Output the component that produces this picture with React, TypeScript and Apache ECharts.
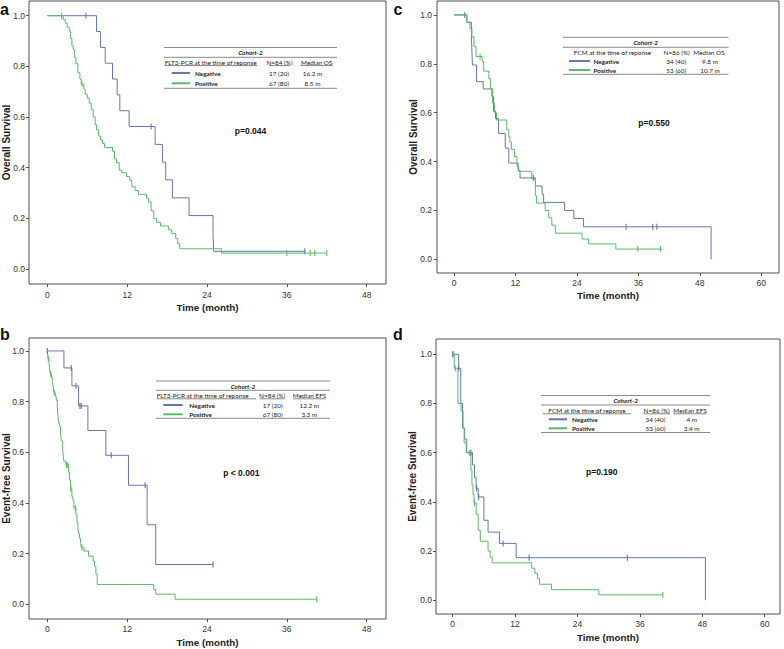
import React, { useEffect, useRef } from 'react';
import * as echarts from 'echarts';

// ---------- DATA (Kaplan–Meier steps: time in months, survival proportion) ----------
// Panel a: FLT3-PCR, Overall Survival
const aNegT = [0, 7.4, 8.0, 8.7, 9.8, 10.5, 10.9, 12.3, 16.2, 17.3, 17.8, 18.8, 21.3, 24.9, 25.0, 38.8];
const aNegS = [1, 0.9375, 0.875, 0.8125, 0.75, 0.6875, 0.625, 0.5625, 0.492, 0.422, 0.352, 0.281, 0.211, 0.141, 0.07, 0.07];
const aNegCens = [5.8, 15.6, 38.7];
const aPosT = [0, 2.4, 2.7, 3.0, 3.3, 3.5, 3.7, 3.9, 4.1, 4.3, 4.6, 4.9, 5.1, 5.5, 5.7, 6.0, 6.3, 6.6, 6.9, 7.2, 7.4, 7.7, 8.0, 8.3, 8.6, 9.8, 10.1, 10.4, 10.8, 11.2, 11.9, 12.4, 12.7, 13.2, 13.7, 14.9, 15.2, 15.6, 16.0, 16.4, 17.0, 18.2, 18.7, 19.3, 19.6, 19.9, 26.2, 42.0];
const aPosS = [1, 0.985, 0.97, 0.955, 0.94, 0.91, 0.88, 0.865, 0.835, 0.81, 0.775, 0.75, 0.73, 0.71, 0.69, 0.675, 0.655, 0.63, 0.6, 0.57, 0.55, 0.525, 0.51, 0.495, 0.48, 0.465, 0.435, 0.42, 0.39, 0.38, 0.365, 0.35, 0.325, 0.31, 0.295, 0.28, 0.265, 0.23, 0.2, 0.185, 0.17, 0.155, 0.14, 0.12, 0.1, 0.08, 0.063, 0.063];
const aPosCens = [2.15, 5.2, 36.0, 39.5, 40.2, 42.0];

// Panel b: FLT3-PCR, Event-free Survival
const bNegT = [0, 2.5, 3.7, 4.7, 6.1, 8.8, 12.2, 15.0, 16.3, 24.9];
const bNegS = [1, 0.933, 0.862, 0.783, 0.686, 0.588, 0.47, 0.314, 0.157, 0.157];
const bNegCens = [0, 3.6, 4.3, 4.9, 5.1, 9.6, 14.7, 24.9];
const bPosT = [0, 0.05, 0.1, 0.25, 0.35, 0.45, 0.6, 0.75, 0.9, 1.0, 1.2, 1.35, 1.5, 1.6, 1.7, 1.85, 2.0, 2.1, 2.3, 2.4, 2.5, 2.8, 3.2, 3.35, 3.5, 3.7, 3.85, 4.0, 4.3, 4.45, 4.6, 4.7, 4.85, 5.0, 5.1, 5.5, 6.2, 6.9, 7.1, 7.3, 7.5, 16.0, 16.3, 19.2, 40.5];
const bPosS = [1, 0.985, 0.97, 0.955, 0.925, 0.91, 0.895, 0.865, 0.85, 0.835, 0.82, 0.805, 0.775, 0.745, 0.715, 0.7, 0.67, 0.645, 0.615, 0.585, 0.565, 0.55, 0.52, 0.49, 0.455, 0.425, 0.41, 0.38, 0.355, 0.325, 0.3, 0.28, 0.26, 0.24, 0.225, 0.21, 0.19, 0.17, 0.15, 0.12, 0.078, 0.058, 0.04, 0.02, 0.02];
const bPosCens = [0.15, 0.5, 1.05, 2.9, 3.1, 3.55, 4.2, 5.2, 40.5];

// Panel c: FCM, Overall Survival
const cNegT = [0, 2.5, 3.4, 3.5, 3.6, 4.4, 5.7, 7.4, 7.7, 8.1, 8.7, 10.0, 10.7, 12.5, 12.9, 15.9, 17.2, 17.5, 21.6, 23.4, 25.3, 50.2];
const cNegS = [1, 0.97, 0.91, 0.85, 0.795, 0.727, 0.697, 0.667, 0.606, 0.576, 0.515, 0.455, 0.394, 0.364, 0.333, 0.3, 0.266, 0.233, 0.2, 0.167, 0.133, 0];
const cNegCens = [2.1, 15.5, 33.6, 38.8, 39.6];
const cPosT = [0, 2.5, 3.1, 3.5, 3.9, 4.3, 5.5, 5.8, 6.8, 7.1, 7.5, 7.9, 8.3, 10.3, 10.7, 10.9, 11.2, 11.8, 12.3, 12.6, 15.2, 15.9, 16.1, 17.8, 18.5, 19.1, 19.8, 25.0, 26.3, 31.6, 40.7];
const cPosS = [1, 0.97, 0.945, 0.91, 0.87, 0.83, 0.81, 0.77, 0.74, 0.7, 0.64, 0.6, 0.57, 0.53, 0.5, 0.48, 0.45, 0.42, 0.38, 0.36, 0.33, 0.26, 0.23, 0.2, 0.17, 0.14, 0.107, 0.083, 0.063, 0.042, 0.042];
const cPosCens = [5.1, 35.9, 40.3];

// Panel d: FCM, Event-free Survival
const dNegT = [0, 1.15, 1.55, 1.9, 2.3, 2.7, 3.8, 4.2, 4.5, 4.9, 6.0, 6.8, 9.0, 12.2, 48.6];
const dNegS = [1, 0.943, 0.8, 0.7, 0.655, 0.6, 0.55, 0.5, 0.455, 0.42, 0.325, 0.277, 0.231, 0.173, 0];
const dNegCens = [0, 1.15, 3.5, 4.6, 5.0, 9.7, 14.7, 33.6];
const dPosT = [0, 0.3, 1.0, 1.6, 2.0, 2.2, 2.6, 3.5, 3.7, 3.9, 4.1, 4.5, 4.9, 5.3, 6.8, 7.2, 7.6, 15.2, 15.8, 16.3, 16.7, 19.0, 28.1, 40.4];
const dPosS = [1, 0.943, 0.8, 0.77, 0.7, 0.64, 0.6, 0.53, 0.47, 0.43, 0.395, 0.35, 0.285, 0.24, 0.2, 0.175, 0.152, 0.13, 0.11, 0.087, 0.065, 0.043, 0.022, 0.022];
const dPosCens = [0.2, 0.5, 3.2, 4.2, 40.4];

// Tick labels
const xTicks48 = [0, 12, 24, 36, 48];
const xTicks60 = [0, 12, 24, 36, 48, 60];
const yTicks = [0, 0.2, 0.4, 0.6, 0.8, 1.0];

// Table texts
const cohortTitle = 'Cohort-2';
const groupNames = ['Negative', 'Positive'];
const headA = ['FLT3-PCR at the time of reponse', 'N=84 (%)', 'Median OS'];
const nA = ['17 (20)', '67 (80)'];
const medA = ['16.2 m', '8.5 m'];
const headB = ['FLT3-PCR at the time of reponse', 'N=84 (%)', 'Median EFS'];
const nB = ['17 (20)', '67 (80)'];
const medB = ['12.2 m', '3.3 m'];
const headC = ['FCM at the time of reponse', 'N=86 (%)', 'Median OS'];
const nC = ['34 (40)', '53 (60)'];
const medC = ['9.8 m', '10.7 m'];
const headD = ['FCM at the time of reponse', 'N=86 (%)', 'Median EFS'];
const nD = ['34 (40)', '53 (60)'];
const medD = ['4 m', '3.4 m'];
const pValues = ['p=0.044', 'p < 0.001', 'p=0.550', 'p=0.190'];
const panelLetters = ['a', 'b', 'c', 'd'];

// ---------- STYLE ----------
const BLUE = '#6477b2';
const GREEN = '#58bb68';
const AXF = '"Liberation Sans", Arial, sans-serif';
const TBF = 'Lato, "Liberation Sans", sans-serif';
const FRAME = '#505050';

function steps(T: number[], S: number[]) {
  return T.map((t, i) => [t, S[i]]);
}
function survAt(T: number[], S: number[], t: number) {
  let v = S[0];
  for (let i = 0; i < T.length; i++) if (T[i] <= t + 1e-9) v = S[i];
  return v;
}
function cens(T: number[], S: number[], C: number[]) {
  return C.map((t) => [t, survAt(T, S, t)]);
}

const panels = [
  {
    grid: { left: 29, top: 1, width: 357, height: 283 },
    x: [-2.75, 50.9], y: [-0.059, 1.058], xt: xTicks48, yName: 'Overall Survival',
    xGap: 18, yGap: 17.5, xm: 6, ym: 4,
    neg: [aNegT, aNegS, aNegCens], pos: [aPosT, aPosS, aPosCens],
  },
  {
    grid: { left: 29, top: 338, width: 357, height: 281 },
    x: [-2.75, 50.9], y: [-0.058, 1.051], xt: xTicks48, yName: 'Event-free Survival',
    xGap: 18, yGap: 17.5, xm: 5, ym: 5,
    neg: [bNegT, bNegS, bNegCens], pos: [bPosT, bPosS, bPosCens],
  },
  {
    grid: { left: 437, top: 1, width: 342, height: 272 },
    x: [-3.32, 63.46], y: [-0.056, 1.057], xt: xTicks60, yName: 'Overall Survival',
    xGap: 17, yGap: 18.5, xm: 5, ym: 5,
    neg: [cNegT, cNegS, cNegCens], pos: [cPosT, cPosS, cPosCens],
  },
  {
    grid: { left: 436, top: 339, width: 344, height: 275 },
    x: [-3.21, 62.94], y: [-0.056, 1.062], xt: xTicks60, yName: 'Event-free Survival',
    xGap: 18, yGap: 18.5, xm: 5, ym: 4,
    neg: [dNegT, dNegS, dNegCens], pos: [dPosT, dPosS, dPosCens],
  },
];

type TableCfg = {
  x0: number; x1: number; yTop: number; yCoh: number; yL2: number; yHead: number; yRows: number[]; yBot: number;
  head: string[]; headX: number[]; headAlign: string[]; ul: number[][] | null; ulY: number;
  legX: number[]; labX: number; nX: number; medX: number; n: string[]; med: string[];
};

function tableEls(c: TableCfg) {
  const els: any[] = [];
  const hl = (y: number) => ({
    type: 'line', silent: true,
    shape: { x1: c.x0, y1: y, x2: c.x1, y2: y },
    style: { stroke: '#8a8a8a', lineWidth: 1 },
  });
  const txt = (x: number, y: number, s: string, align: string, extra: any = {}) => ({
    type: 'text', silent: true, x, y,
    style: {
      text: s, fill: '#222', font: `6.4px ${TBF}`, fontSize: 6.4, fontFamily: TBF,
      textAlign: align, align, textVerticalAlign: 'middle', verticalAlign: 'middle', ...extra,
    },
  });
  els.push(hl(c.yTop), hl(c.yL2), hl(c.yBot));
  els.push(txt((c.x0 + c.x1) / 2, c.yCoh, cohortTitle, 'center', { fontStyle: 'italic', fontWeight: 'bold' }));
  c.head.forEach((h, i) => els.push(txt(c.headX[i], c.yHead, h, c.headAlign[i])));
  if (c.ul) {
    c.ul.forEach((u) => els.push({
      type: 'line', silent: true,
      shape: { x1: u[0], y1: c.ulY, x2: u[1], y2: c.ulY },
      style: { stroke: '#333', lineWidth: 0.6 },
    }));
  }
  [BLUE, GREEN].forEach((col, i) => {
    const y = c.yRows[i];
    els.push({
      type: 'line', silent: true,
      shape: { x1: c.legX[0], y1: y, x2: c.legX[1], y2: y },
      style: { stroke: col, lineWidth: 2 },
    });
    els.push(txt(c.labX, y, groupNames[i], 'left', { fontWeight: 'bold' }));
    els.push(txt(c.nX, y, c.n[i], 'center'));
    els.push(txt(c.medX, y, c.med[i], 'center'));
  });
  return els;
}

const tables: TableCfg[] = [
  {
    x0: 164, x1: 337, yTop: 47.5, yCoh: 52.5, yL2: 57.3, yHead: 62.5, yRows: [73, 83.3], yBot: 88.3,
    head: headA, headX: [164.7, 279.5, 316.7], headAlign: ['left', 'center', 'center'],
    ul: [[164.7, 257], [269, 290], [300.5, 333]], ulY: 65.6,
    legX: [171.7, 190], labX: 195, nX: 279, medX: 312.5, n: nA, med: medA,
  },
  {
    x0: 156, x1: 330, yTop: 381, yCoh: 386, yL2: 390.3, yHead: 395.7, yRows: [405, 414.3], yBot: 418.3,
    head: headB, headX: [156.7, 272.2, 309.5], headAlign: ['left', 'center', 'center'],
    ul: [[156.7, 256], [260, 284.3], [293.3, 325.7]], ulY: 398.8,
    legX: [163.3, 182.7], labX: 189.3, nX: 272.7, medX: 309.3, n: nB, med: medB,
  },
  {
    x0: 563, x1: 728.5, yTop: 37.3, yCoh: 42.5, yL2: 47.3, yHead: 52.7, yRows: [61, 70], yBot: 74.3,
    head: headC, headX: [612.5, 676.7, 709], headAlign: ['center', 'center', 'center'],
    ul: null, ulY: 0,
    legX: [569, 590], labX: 593.5, nX: 676.3, medX: 710, n: nC, med: medC,
  },
  {
    x0: 541, x1: 710.3, yTop: 395.5, yCoh: 400.5, yL2: 405, yHead: 410.7, yRows: [419.3, 428.3], yBot: 432.5,
    head: headD, headX: [587, 656.7, 690], headAlign: ['center', 'center', 'center'],
    ul: [[542.7, 631.3], [643.3, 670], [673.3, 706.7]], ulY: 413.8,
    legX: [548.7, 567], labX: 572, nX: 655.5, medX: 691.7, n: nD, med: medD,
  },
];

const pPos = [[250.5, 130.7], [241.3, 473.3], [654, 122.7], [601.7, 471.7]];
const letterPos = [[0, 9.5], [0, 334], [393.5, 9.5], [393, 334]];

function buildOption() {
  const grid: any[] = [];
  const xAxis: any[] = [];
  const yAxis: any[] = [];
  const series: any[] = [];
  panels.forEach((p, i) => {
    grid.push({
      ...p.grid, show: true, borderColor: FRAME, borderWidth: 1,
      backgroundColor: '#fff', containLabel: false, outerBoundsMode: 'none',
    });
    xAxis.push({
      type: 'value', gridIndex: i, min: p.x[0], max: p.x[1],
      axisLine: { show: false, onZero: false },
      axisTick: { show: true, length: 3, customValues: p.xt, lineStyle: { color: FRAME } },
      axisLabel: { customValues: p.xt, margin: p.xm, fontSize: 8.5, color: '#333', fontFamily: AXF },
      splitLine: { show: false },
      name: 'Time (month)', nameLocation: 'middle', nameGap: p.xGap, nameMoveOverlap: false,
      nameTextStyle: { fontSize: 9.8, fontWeight: 'bold', color: '#222', fontFamily: AXF },
    });
    yAxis.push({
      type: 'value', gridIndex: i, min: p.y[0], max: p.y[1],
      axisLine: { show: false, onZero: false },
      axisTick: { show: true, length: 3, customValues: yTicks, lineStyle: { color: FRAME } },
      axisLabel: {
        customValues: yTicks, margin: p.ym, fontSize: 8.5, color: '#333', fontFamily: AXF,
        formatter: (v: number) => v.toFixed(1),
      },
      splitLine: { show: false },
      name: p.yName, nameLocation: 'middle', nameGap: p.yGap, nameMoveOverlap: false,
      nameTextStyle: { fontSize: 10, fontWeight: 'bold', color: '#222', fontFamily: AXF },
    });
    const groups: any[] = [[p.neg, BLUE, 'Negative'], [p.pos, GREEN, 'Positive']];
    groups.forEach(([g, col, nm]) => {
      const [T, S, C] = g;
      series.push({
        type: 'line', name: nm, xAxisIndex: i, yAxisIndex: i, step: 'end',
        data: steps(T, S), showSymbol: false, symbol: 'none',
        lineStyle: { color: col, width: 1 }, itemStyle: { color: col }, z: 3,
      });
      series.push({
        type: 'scatter', name: nm + ' censored', xAxisIndex: i, yAxisIndex: i,
        data: cens(T, S, C), symbol: 'rect', symbolSize: [1.1, 6],
        itemStyle: { color: col, opacity: 1 }, z: 4,
      });
    });
  });

  const graphic: any[] = [];
  tables.forEach((t) => graphic.push(...tableEls(t)));
  pValues.forEach((pv, i) => graphic.push({
    type: 'text', silent: true, x: pPos[i][0], y: pPos[i][1],
    style: {
      text: pv, fill: '#111', font: `bold 8.5px ${AXF}`, fontSize: 8.5, fontWeight: 'bold', fontFamily: AXF,
      textAlign: 'center', align: 'center', textVerticalAlign: 'middle', verticalAlign: 'middle',
    },
  }));
  panelLetters.forEach((l, i) => graphic.push({
    type: 'text', silent: true, x: letterPos[i][0], y: letterPos[i][1],
    style: {
      text: l, fill: '#111', font: `bold 16px ${AXF}`, fontSize: 16, fontWeight: 'bold', fontFamily: AXF,
      textAlign: 'left', align: 'left', textVerticalAlign: 'middle', verticalAlign: 'middle',
    },
  }));

  return {
    animation: false,
    backgroundColor: '#fff',
    grid, xAxis, yAxis, series, graphic,
  };
}

export default function App() {
  const ref = useRef<HTMLDivElement>(null);
  useEffect(() => {
    if (!ref.current) return;
    const chart = echarts.init(ref.current, undefined, { renderer: 'svg' });
    chart.setOption(buildOption() as any);
    return () => chart.dispose();
  }, []);
  return (
    <div
      ref={ref}
      style={{ position: 'fixed', left: 0, top: 0, width: 784, height: 649, background: '#fff' }}
    />
  );
}
